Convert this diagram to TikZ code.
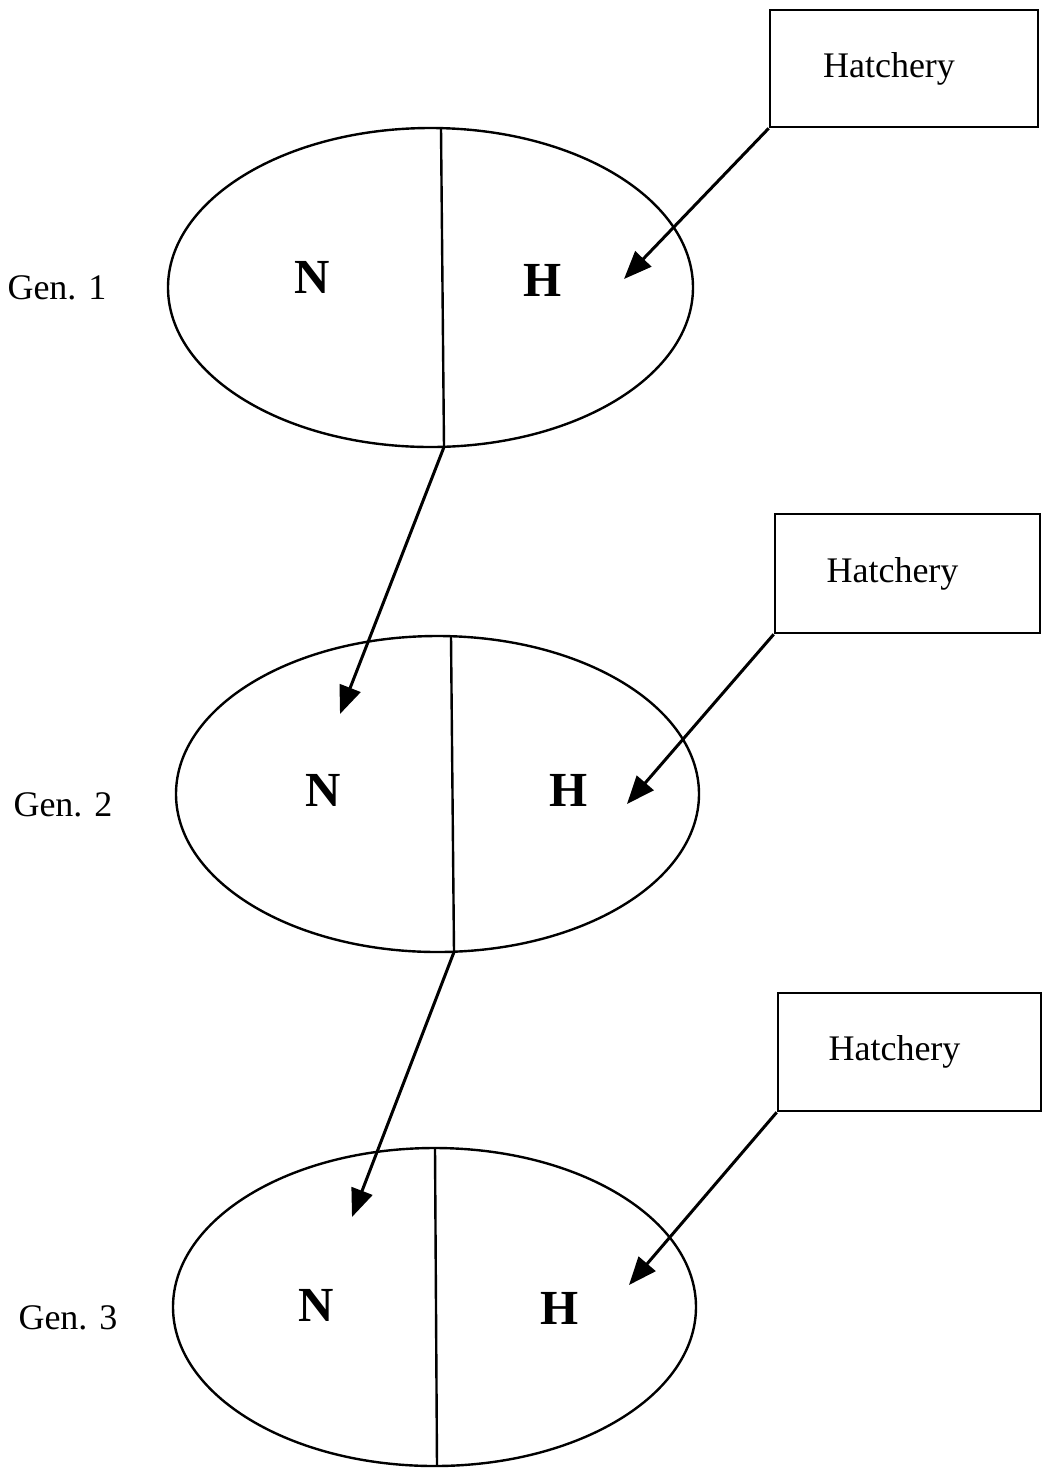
\documentclass[tikz,border=0pt]{standalone}
\usepackage{fontspec}
\setmainfont{Liberation Serif}
\usetikzlibrary{shapes.geometric,arrows.meta}

\tikzset{
  genoval/.style={draw, ellipse, line width=1.2pt, minimum width=262pt, minimum height=159pt, inner sep=0pt},
  hatchbox/.style={draw, rectangle, line width=1.3pt, minimum width=133pt, minimum height=58pt, font=\fontsize{18}{20}\selectfont},
  genlabel/.style={font=\fontsize{18}{20}\selectfont},
  halflabel/.style={font=\fontsize{24.5}{26}\selectfont\bfseries},
  flow/.style={-{Triangle[length=14pt,width=11pt]}, line width=1.5pt},
  divider/.style={line width=1.2pt}
}

\begin{document}
\begin{tikzpicture}[x=0.5pt, y=-0.5pt]
\useasboundingbox (0,0) rectangle (1042,1469);

% Generation 1
\node[genoval, minimum width=262.5pt, minimum height=159.5pt] (gen1) at (430.5,287.5) {};
\coordinate (gen1top) at (441,128);
\coordinate (gen1bot) at (444,447);
\draw[divider] (gen1top) -- (gen1bot);
\node[genlabel] (gen1lab) at (57,288) {Gen. 1};
\node[halflabel] (n1) at (312,277) {N};
\node[halflabel] (h1) at (543,280) {H};

% Generation 2
\node[genoval, minimum width=261.5pt, minimum height=158pt] (gen2) at (437.5,794) {};
\coordinate (gen2top) at (451,636);
\coordinate (gen2bot) at (454,952);
\draw[divider] (gen2top) -- (gen2bot);
\node[genlabel] (gen2lab) at (63,805) {Gen. 2};
\node[halflabel] (n2) at (323,790) {N};
\node[halflabel] (h2) at (569,790) {H};

% Generation 3
\node[genoval, minimum width=261.5pt, minimum height=159pt] (gen3) at (434.5,1307) {};
\coordinate (gen3top) at (435,1148);
\coordinate (gen3bot) at (437,1466);
\draw[divider] (gen3top) -- (gen3bot);
\node[genlabel] (gen3lab) at (68,1318) {Gen. 3};
\node[halflabel] (n3) at (316,1305) {N};
\node[halflabel] (h3) at (560,1308) {H};

% Hatchery inputs
\node[hatchbox, minimum width=134pt, minimum height=58.5pt] (hat1) at (904,68.5) {Hatchery\hspace*{15pt}};
\node[hatchbox, minimum width=132.5pt, minimum height=59.5pt] (hat2) at (907.5,573.5) {Hatchery\hspace*{15pt}};
\node[hatchbox, minimum width=131.5pt, minimum height=59pt] (hat3) at (909.5,1052) {Hatchery\hspace*{15pt}};

\coordinate (h1end) at (624,279);
\coordinate (h2end) at (627,804);
\coordinate (h3end) at (629,1285);
\draw[flow] (hat1.south west) -- (h1end);
\draw[flow] (hat2.south west) -- (h2end);
\draw[flow] (hat3.south west) -- (h3end);

% Natural-born offspring passed down
\coordinate (n2end) at (340,714);
\coordinate (n3end) at (352,1217);
\draw[flow] (gen1bot) -- (n2end);
\draw[flow] (gen2bot) -- (n3end);
\end{tikzpicture}
\end{document}
